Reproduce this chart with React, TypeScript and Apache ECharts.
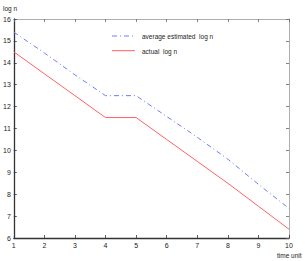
import React, { useEffect, useRef } from "react";
import * as echarts from "echarts";

const timeUnits = [1, 2, 3, 4, 5, 6, 7, 8, 9, 10];
const averageEstimated = [15.4, 14.45, 13.45, 12.5, 12.5, 11.55, 10.6, 9.6, 8.45, 7.35];
const actual = [14.5, 13.5, 12.5, 11.5, 11.5, 10.5, 9.5, 8.5, 7.45, 6.4];
const seriesNames = ["average estimated  log n", "actual  log n"];
const yAxisTitle = "log n";
const xAxisTitle = "time unit";

const BLUE = "#6b7cff";
const RED = "#ff6262";
const FONT = "Liberation Sans";

export default function App() {
  const ref = useRef<HTMLDivElement>(null);
  useEffect(() => {
    document.body.style.margin = "0";
    const chart = echarts.init(ref.current!, undefined, { renderer: "svg" });
    const labelStyle = { fontFamily: FONT, fontSize: 7, color: "#222" };
    const mainAxisLine = { show: true, lineStyle: { color: "#333", width: 1.3 } };
    const sideAxisLine = { show: true, lineStyle: { color: "#999", width: 0.8 } };
    const tick = (c: string) => ({ show: true, inside: true, length: 3, lineStyle: { color: c, width: 0.8 } });
    chart.setOption({
      animation: false,
      backgroundColor: "#fff",
      grid: { left: 11, right: 16, top: 19, bottom: 23 },
      xAxis: [
        {
          type: "value", min: 1, max: 10, interval: 1, position: "bottom",
          axisLine: mainAxisLine, axisTick: tick("#333"), splitLine: { show: false },
          axisLabel: { ...labelStyle, margin: 4 },
        },
        {
          type: "value", min: 1, max: 10, interval: 1, position: "top",
          axisLine: sideAxisLine, axisTick: tick("#666"), splitLine: { show: false },
          axisLabel: { show: false },
        },
      ],
      yAxis: [
        {
          type: "value", min: 6, max: 16, interval: 1, position: "left",
          axisLine: mainAxisLine, axisTick: tick("#333"), splitLine: { show: false },
          axisLabel: { ...labelStyle, margin: 3 },
        },
        {
          type: "value", min: 6, max: 16, interval: 1, position: "right",
          axisLine: sideAxisLine, axisTick: tick("#666"), splitLine: { show: false },
          axisLabel: { show: false },
        },
      ],
      series: [
        {
          name: seriesNames[0], type: "line", showSymbol: false, symbol: "none",
          data: timeUnits.map((t, i) => [t, averageEstimated[i]]),
          lineStyle: { color: BLUE, width: 1, type: [5, 3, 1, 3] },
        },
        {
          name: seriesNames[1], type: "line", showSymbol: false, symbol: "none",
          data: timeUnits.map((t, i) => [t, actual[i]]),
          lineStyle: { color: RED, width: 1 },
        },
      ],
      graphic: [
        { type: "text", left: 3, top: 5, style: { text: yAxisTitle, font: `6.5px ${FONT}`, fill: "#222" } },
        { type: "text", left: 277, top: 252, style: { text: xAxisTitle, font: `6.5px ${FONT}`, fill: "#222" } },
        { type: "line", shape: { x1: 112, y1: 36, x2: 135, y2: 36 }, style: { stroke: BLUE, lineWidth: 1, lineDash: [5, 3, 1, 3] } },
        { type: "text", left: 142, top: 32.5, style: { text: seriesNames[0], font: `6.5px ${FONT}`, fill: "#222" } },
        { type: "line", shape: { x1: 112, y1: 50.7, x2: 135, y2: 50.7 }, style: { stroke: RED, lineWidth: 1 } },
        { type: "text", left: 142, top: 47.5, style: { text: seriesNames[1], font: `6.5px ${FONT}`, fill: "#222" } },
      ],
    });
    return () => chart.dispose();
  }, []);
  return <div ref={ref} style={{ position: "fixed", left: 0, top: 0, width: 305, height: 261 }} />;
}
